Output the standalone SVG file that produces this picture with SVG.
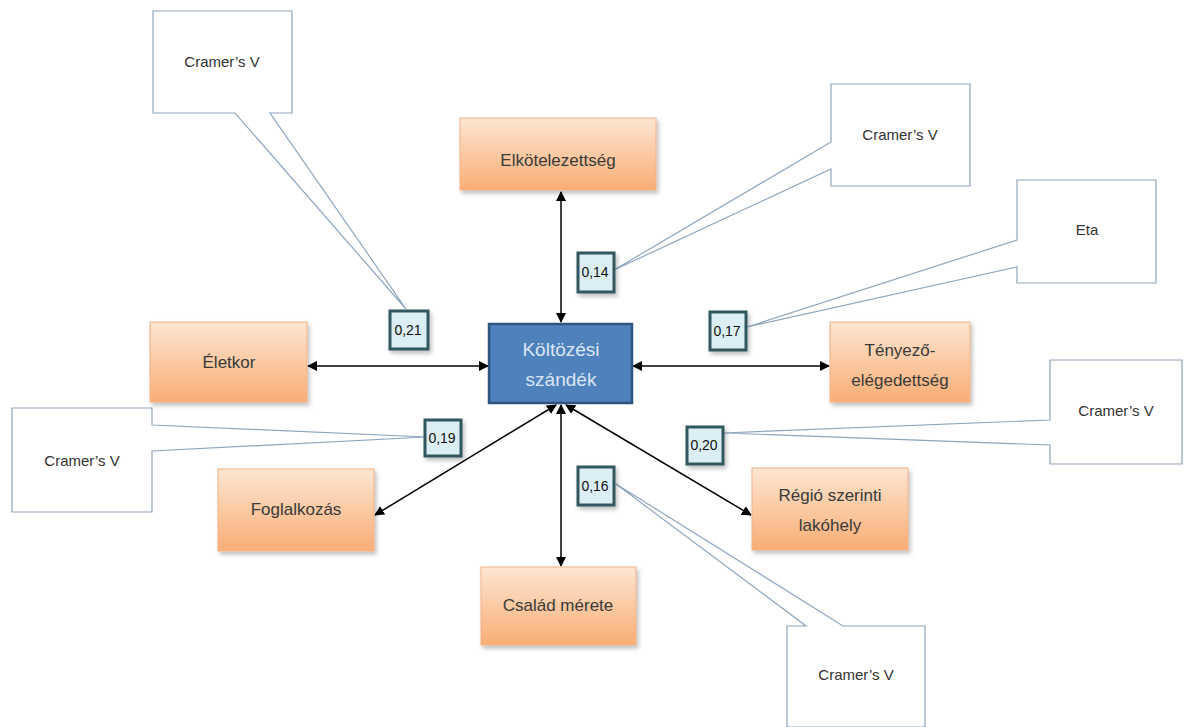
<svg xmlns="http://www.w3.org/2000/svg" width="1184" height="727" viewBox="0 0 1184 727">
<defs>
<linearGradient id="og" x1="0" y1="0" x2="0" y2="1">
<stop offset="0" stop-color="#fde6d2"/>
<stop offset="1" stop-color="#f9ad74"/>
</linearGradient>
<filter id="sh" x="-10%" y="-10%" width="130%" height="130%">
<feDropShadow dx="2" dy="3" stdDeviation="2" flood-color="#000" flood-opacity="0.25"/>
</filter>
<marker id="ah" viewBox="0 0 10 10" refX="9" refY="5" markerWidth="10" markerHeight="10" orient="auto-start-reverse" markerUnits="userSpaceOnUse">
<path d="M0,0 L10,5 L0,10 z" fill="#000"/>
</marker>
</defs>
<style>
.orange{fill:url(#og);stroke:#f2b287;stroke-width:1;filter:url(#sh)}
.otext{font-family:"Liberation Sans",Arial,sans-serif;font-size:17px;fill:#3a3a3a;text-anchor:middle}
.num{fill:#dbeef4;stroke:#30585e;stroke-width:3;filter:url(#sh)}
.ntext{font-family:"Liberation Sans",Arial,sans-serif;font-size:14px;fill:#111;text-anchor:middle}
.call{fill:#fff;stroke:#8fa6bd;stroke-width:1.2}
.ctext{font-family:"Liberation Sans",Arial,sans-serif;font-size:15px;fill:#333;text-anchor:middle}
.conn{stroke:#000;stroke-width:1.5;fill:none;marker-start:url(#ah);marker-end:url(#ah)}
</style>
<rect width="1184" height="727" fill="#fff"/>

<g id="callouts">
<g id="callout-tl"><path class="call" d="M153,11 L292,11 L292,113 L270,113 L406,309 L235,113 L153,113 Z"/><text class="ctext" x="222" y="67">Cramer’s V</text></g>
<g id="callout-l"><path class="call" d="M12,408 L152,408 L152,425 L426,437 L152,451 L152,512 L12,512 Z"/><text class="ctext" x="82" y="466">Cramer’s V</text></g>
<g id="callout-tr"><path class="call" d="M831,84 L970,84 L970,186 L831,186 L831,169 L614,270 L831,142 Z"/><text class="ctext" x="900" y="140">Cramer’s V</text></g>
<g id="callout-eta"><path class="call" d="M1017,180 L1156,180 L1156,283 L1017,283 L1017,267 L747,327 L1017,240 Z"/><text class="ctext" x="1087" y="235">Eta</text></g>
<g id="callout-r"><path class="call" d="M1050,360 L1182,360 L1182,464 L1050,464 L1050,445 L723,433 L1050,420 Z"/><text class="ctext" x="1116" y="416">Cramer’s V</text></g>
<g id="callout-b"><path class="call" d="M787,626 L806,626 L616,484 L843,626 L925,626 L925,727 L787,727 Z"/><text class="ctext" x="856" y="680">Cramer’s V</text></g>
</g>

<g id="connectors">
<line class="conn" x1="561" y1="322" x2="561" y2="192"/>
<line class="conn" x1="488" y1="366" x2="308" y2="366"/>
<line class="conn" x1="633" y1="366" x2="829" y2="366"/>
<line class="conn" x1="556" y1="405" x2="375" y2="515"/>
<line class="conn" x1="561" y1="405" x2="561" y2="566"/>
<line class="conn" x1="566" y1="405" x2="751" y2="515"/>
</g>

<g id="center"><rect x="489" y="324" width="143" height="79" fill="#4f81bd" stroke="#2f5480" stroke-width="2.5"/>
<text x="561" y="356" font-family="Liberation Sans, Arial, sans-serif" font-size="19" fill="#dce6f2" text-anchor="middle">Költözési</text>
<text x="561" y="386" font-family="Liberation Sans, Arial, sans-serif" font-size="19" fill="#dce6f2" text-anchor="middle">szándék</text></g>

<g id="n-elkot"><rect class="orange" x="460" y="118" width="196" height="72"/><text class="otext" x="558" y="166">Elkötelezettség</text></g>
<g id="n-eletkor"><rect class="orange" x="150" y="322" width="157" height="80"/><text class="otext" x="229" y="368">Életkor</text></g>
<g id="n-tenyezo"><rect class="orange" x="830" y="322" width="140" height="80"/><text class="otext" x="900" y="356">Tényező-</text><text class="otext" x="900" y="386">elégedettség</text></g>
<g id="n-fogl"><rect class="orange" x="218" y="469" width="156" height="82"/><text class="otext" x="296" y="515">Foglalkozás</text></g>
<g id="n-csalad"><rect class="orange" x="481" y="567" width="155" height="78"/><text class="otext" x="558" y="611">Család mérete</text></g>
<g id="n-regio"><rect class="orange" x="752" y="468" width="156" height="82"/><text class="otext" x="830" y="501">Régió szerinti</text><text class="otext" x="830" y="531">lakóhely</text></g>

<g id="v021"><rect class="num" x="390" y="311" width="38" height="38"/><text class="ntext" x="408" y="335">0,21</text></g>
<g id="v014"><rect class="num" x="578" y="253" width="36" height="39"/><text class="ntext" x="595" y="277">0,14</text></g>
<g id="v017"><rect class="num" x="710" y="312" width="36" height="38"/><text class="ntext" x="727" y="336">0,17</text></g>
<g id="v019"><rect class="num" x="425" y="420" width="36" height="36"/><text class="ntext" x="442" y="443">0,19</text></g>
<g id="v020"><rect class="num" x="687" y="427" width="36" height="37"/><text class="ntext" x="704" y="450">0,20</text></g>
<g id="v016"><rect class="num" x="578" y="467" width="36" height="38"/><text class="ntext" x="595" y="491">0,16</text></g>
</svg>
